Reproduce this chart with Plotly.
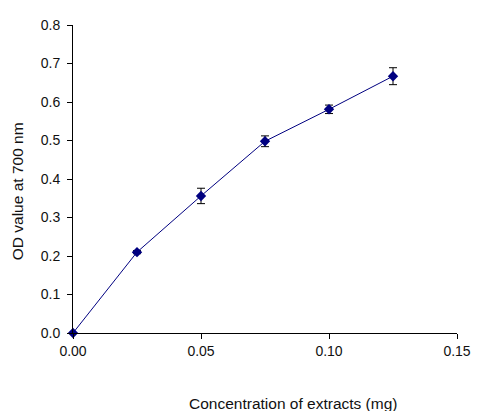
import plotly.graph_objects as go

conc = [0.0, 0.025, 0.05, 0.075, 0.10, 0.125]
od = [0.0, 0.210, 0.356, 0.498, 0.581, 0.667]
err = [0.0, 0.004, 0.020, 0.014, 0.011, 0.022]
x_ticks = [0.0, 0.05, 0.10, 0.15]
x_tick_text = ["0.00", "0.05", "0.10", "0.15"]
y_ticks = [0.0, 0.1, 0.2, 0.3, 0.4, 0.5, 0.6, 0.7, 0.8]
y_tick_text = ["0.0", "0.1", "0.2", "0.3", "0.4", "0.5", "0.6", "0.7", "0.8"]

fig = go.Figure()
fig.add_trace(go.Scatter(
    x=conc, y=od, mode="lines+markers",
    line=dict(color="#000080", width=1),
    marker=dict(symbol="diamond", size=8, color="#000080"),
    error_y=dict(type="data", array=err, visible=True, color="black", thickness=1, width=4),
    showlegend=False, cliponaxis=False,
))

tick_font = dict(family="Liberation Sans, Arial, sans-serif", size=14, color="#111111")
title_font = dict(family="Liberation Sans, Arial, sans-serif", size=15.5, color="#111111")
# page has an 8px body margin, so the figure is drawn 8px in from the top-left
L, R, T, B = 65, 19, 9, 78
W, H = 472, 403
pw, ph = W - L - R, H - T - B
fig.update_layout(
    width=W, height=H,
    margin=dict(l=L, r=R, t=T, b=B),
    paper_bgcolor="white", plot_bgcolor="white",
    font=tick_font,
    xaxis=dict(range=[0, 0.15], tickvals=x_ticks, ticktext=x_tick_text,
               showgrid=False, zeroline=False, showline=True, linecolor="black", linewidth=1,
               ticks="outside", ticklen=5, tickcolor="black", tickfont=tick_font),
    yaxis=dict(range=[0, 0.8], tickvals=y_ticks, ticktext=y_tick_text,
               showgrid=False, zeroline=False, showline=True, linecolor="black", linewidth=1,
               ticks="outside", ticklen=5, tickcolor="black", tickfont=tick_font,
               ticklabelstandoff=4),
    annotations=[
        dict(text="Concentration of extracts (mg)", xref="paper", yref="paper",
             x=(295 - 73) / pw, y=-(405 - 333) / ph, xanchor="center", yanchor="middle",
             showarrow=False, font=title_font),
        dict(text="OD value at 700 nm", xref="paper", yref="paper", textangle=-90,
             x=(17 - 73) / pw, y=(333 - 188) / ph, xanchor="center", yanchor="middle",
             showarrow=False, font=title_font),
    ],
)
fig.write_html("out.html")
